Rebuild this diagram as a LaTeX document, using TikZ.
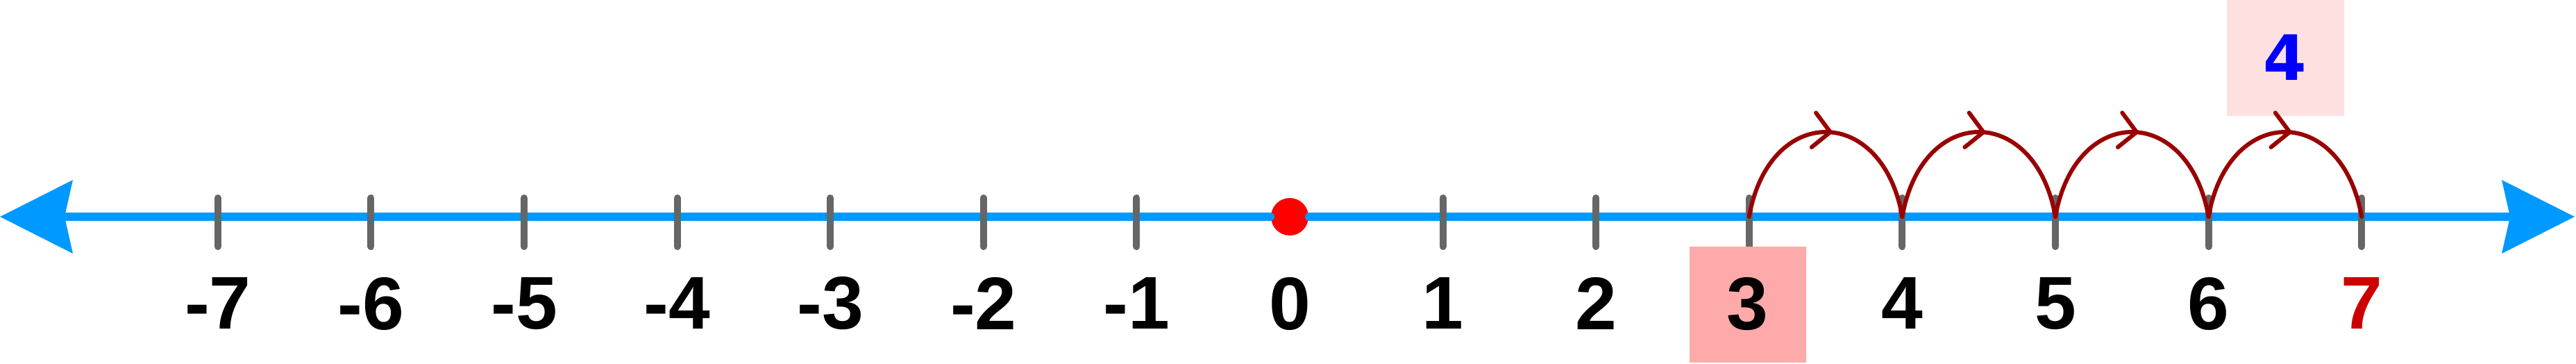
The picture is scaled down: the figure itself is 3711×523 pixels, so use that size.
\documentclass[tikz,border=0pt]{standalone}
\usepackage{fontspec}
\setmainfont{Liberation Sans}
\newfontfamily\countfont{DejaVu Sans}
\usetikzlibrary{arrows.meta,decorations.markings}
\definecolor{axisblue}{RGB}{0,153,255}
\definecolor{tickgray}{RGB}{102,102,102}
\definecolor{hopred}{RGB}{153,0,0}
\definecolor{startfill}{RGB}{255,170,170}
\definecolor{countfill}{RGB}{255,224,224}
\definecolor{endred}{RGB}{204,0,0}

\begin{document}
\begin{tikzpicture}[
    x=0.2pt, y=0.2pt,
    axis/.style={
        axisblue, line width=2.4pt, line cap=round,
        -{Stealth[length=21pt, width=21.2pt, inset=2.4pt, line width=0pt]}
    },
    tickmark/.style={tickgray, line width=2pt, line cap=round},
    zerodot/.style={circle, fill=red, inner sep=0pt, minimum size=10.8pt},
    numlabel/.style={inner sep=0pt, font=\fontsize{21.5}{24}\selectfont\bfseries},
    startbox/.style={   % starting number, shaded
        numlabel, fill=startfill, minimum width=33.6pt, minimum height=33.4pt
    },
    countbox/.style={
        fill=countfill, inner sep=0pt, minimum width=33.8pt, minimum height=33.4pt,
        text=blue, font=\countfont\fontsize{18}{20}\selectfont\bfseries
    },
    hop/.style={
        hopred, line width=1.2pt, line cap=round, looseness=1.92,
        postaction={decorate},
        decoration={markings, mark=at position 0.53 with
          {\arrow{Straight Barb[length=4.8pt, width=10pt, line cap=round]}}}
    },
]

\def\Z{1858}   % x of zero
\def\S{220.6}  % unit spacing
\def\Y{-312}   % axis height

\useasboundingbox (0,0) rectangle (3711,-523);

%% ===================== AXIS =====================
\coordinate (lend) at (0,\Y);
\coordinate (rend) at (3709,\Y);
\node[zerodot] (zero) at (\Z,\Y) {};
\draw[axis] (zero) -- (lend);
\draw[axis] (zero) -- (rend);

%% tick points and marks (no mark under the dot)
\foreach \n in {-7,...,7} {
  \pgfmathsetmacro{\x}{\Z+\n*\S}
  \coordinate (t\n) at (\x,\Y);
  \ifnum\n=0\else
    \draw[tickmark] (t\n) ++(0,27) -- ++(0,-70);
  \fi
}

%% ===================== LABELS =====================
\foreach \n in {-7,-6,-5,-4,-3,-2,-1,0,1,2,4,5,6} {
  \pgfmathsetmacro{\x}{\Z+\n*\S}
  \node[numlabel] (l\n) at (\x,-437) {\n};
}
\node[startbox] (l3) at (\Z+3*\S-2,-438) {3};
\node[numlabel, text=endred] (l7) at (\Z+7*\S,-437) {7};

%% count of hops
\node[countbox] (cnt) at (3292,-83) {4};

%% ===================== HOPS =====================
\foreach \a/\b in {3/4, 4/5, 5/6, 6/7} {
  \draw[hop] (t\a) to[out=80, in=100] (t\b);
}

\end{tikzpicture}
\end{document}
